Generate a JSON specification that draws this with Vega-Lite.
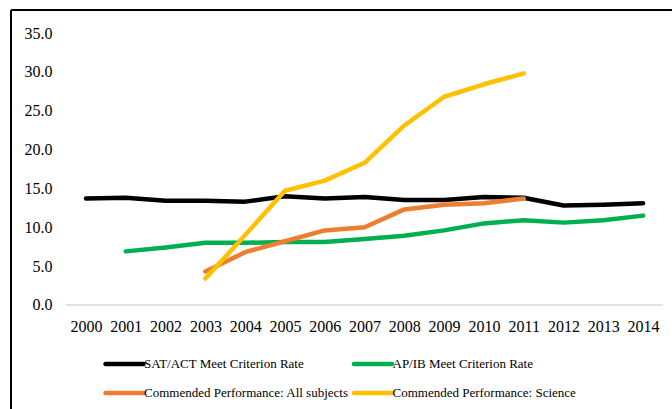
{
  "$schema": "https://vega.github.io/schema/vega-lite/v6.json",
  "width": 708,
  "height": 420,
  "autosize": {"type": "none"},
  "padding": {"left": 11, "top": 10, "right": -47, "bottom": -21},
  "background": "white",
  "config": {
    "font": "Liberation Serif",
    "view": {"stroke": null}
  },
  "datasets": {
    "rates": [
      {"year": 2000, "series": "SAT/ACT Meet Criterion Rate", "value": 13.7},
      {"year": 2001, "series": "SAT/ACT Meet Criterion Rate", "value": 13.8},
      {"year": 2002, "series": "SAT/ACT Meet Criterion Rate", "value": 13.4},
      {"year": 2003, "series": "SAT/ACT Meet Criterion Rate", "value": 13.4},
      {"year": 2004, "series": "SAT/ACT Meet Criterion Rate", "value": 13.3},
      {"year": 2005, "series": "SAT/ACT Meet Criterion Rate", "value": 14.0},
      {"year": 2006, "series": "SAT/ACT Meet Criterion Rate", "value": 13.7},
      {"year": 2007, "series": "SAT/ACT Meet Criterion Rate", "value": 13.9},
      {"year": 2008, "series": "SAT/ACT Meet Criterion Rate", "value": 13.5},
      {"year": 2009, "series": "SAT/ACT Meet Criterion Rate", "value": 13.5},
      {"year": 2010, "series": "SAT/ACT Meet Criterion Rate", "value": 13.9},
      {"year": 2011, "series": "SAT/ACT Meet Criterion Rate", "value": 13.8},
      {"year": 2012, "series": "SAT/ACT Meet Criterion Rate", "value": 12.8},
      {"year": 2013, "series": "SAT/ACT Meet Criterion Rate", "value": 12.9},
      {"year": 2014, "series": "SAT/ACT Meet Criterion Rate", "value": 13.1},
      {"year": 2001, "series": "AP/IB Meet Criterion Rate", "value": 6.9},
      {"year": 2002, "series": "AP/IB Meet Criterion Rate", "value": 7.4},
      {"year": 2003, "series": "AP/IB Meet Criterion Rate", "value": 8.0},
      {"year": 2004, "series": "AP/IB Meet Criterion Rate", "value": 8.0},
      {"year": 2005, "series": "AP/IB Meet Criterion Rate", "value": 8.1},
      {"year": 2006, "series": "AP/IB Meet Criterion Rate", "value": 8.1},
      {"year": 2007, "series": "AP/IB Meet Criterion Rate", "value": 8.5},
      {"year": 2008, "series": "AP/IB Meet Criterion Rate", "value": 8.9},
      {"year": 2009, "series": "AP/IB Meet Criterion Rate", "value": 9.6},
      {"year": 2010, "series": "AP/IB Meet Criterion Rate", "value": 10.5},
      {"year": 2011, "series": "AP/IB Meet Criterion Rate", "value": 10.9},
      {"year": 2012, "series": "AP/IB Meet Criterion Rate", "value": 10.6},
      {"year": 2013, "series": "AP/IB Meet Criterion Rate", "value": 10.9},
      {"year": 2014, "series": "AP/IB Meet Criterion Rate", "value": 11.5},
      {"year": 2003, "series": "Commended Performance: All subjects", "value": 4.3},
      {"year": 2004, "series": "Commended Performance: All subjects", "value": 6.8},
      {"year": 2005, "series": "Commended Performance: All subjects", "value": 8.2},
      {"year": 2006, "series": "Commended Performance: All subjects", "value": 9.6},
      {"year": 2007, "series": "Commended Performance: All subjects", "value": 10.0},
      {"year": 2008, "series": "Commended Performance: All subjects", "value": 12.3},
      {"year": 2009, "series": "Commended Performance: All subjects", "value": 12.9},
      {"year": 2010, "series": "Commended Performance: All subjects", "value": 13.1},
      {"year": 2011, "series": "Commended Performance: All subjects", "value": 13.7},
      {"year": 2003, "series": "Commended Performance: Science", "value": 3.4},
      {"year": 2004, "series": "Commended Performance: Science", "value": 9.0},
      {"year": 2005, "series": "Commended Performance: Science", "value": 14.7},
      {"year": 2006, "series": "Commended Performance: Science", "value": 16.0},
      {"year": 2007, "series": "Commended Performance: Science", "value": 18.3},
      {"year": 2008, "series": "Commended Performance: Science", "value": 23.1},
      {"year": 2009, "series": "Commended Performance: Science", "value": 26.8},
      {"year": 2010, "series": "Commended Performance: Science", "value": 28.4},
      {"year": 2011, "series": "Commended Performance: Science", "value": 29.8}
    ],
    "baseline": [
      {"from": 1999.5, "to": 2014.5, "value": 0}
    ]
  },
  "resolve": {"scale": {"x": "shared", "y": "shared"}},
  "layer": [
    {
      "description": "chart-area frame: left edge at the x domain start",
      "data": {"values": [{}]},
      "mark": {"type": "rule", "color": "black", "strokeWidth": 2},
      "encoding": {"x": {"datum": 1998.115, "type": "quantitative"}}
    },
    {
      "description": "chart-area frame: top edge at the y domain end",
      "data": {"values": [{}]},
      "mark": {"type": "rule", "color": "black", "strokeWidth": 2},
      "encoding": {"y": {"datum": 37.96, "type": "quantitative"}}
    },
    {
      "data": {"name": "baseline"},
      "mark": {"type": "rule", "color": "#d9d9d9", "strokeWidth": 1.5},
      "encoding": {
        "x": {"field": "from", "type": "quantitative"},
        "x2": {"field": "to"},
        "y": {"field": "value", "type": "quantitative"}
      }
    },
    {
      "data": {"name": "rates"},
      "mark": {"type": "line", "strokeWidth": 4.5, "strokeCap": "round", "strokeJoin": "round"},
      "encoding": {
        "x": {
          "field": "year",
          "type": "quantitative",
          "scale": {"domain": [1998.115, 2015.908], "nice": false, "zero": false},
          "axis": {
            "title": null,
            "orient": "bottom",
            "offset": -125,
            "values": [2000, 2001, 2002, 2003, 2004, 2005, 2006, 2007, 2008, 2009, 2010, 2011, 2012, 2013, 2014],
            "format": "d",
            "domain": false,
            "ticks": false,
            "grid": false,
            "labelFont": "Liberation Serif",
            "labelFontSize": 16,
            "labelColor": "#000000",
            "labelPadding": 13,
            "labelFlush": false,
            "labelOverlap": false
          }
        },
        "y": {
          "field": "value",
          "type": "quantitative",
          "scale": {"domain": [-16.085, 37.96], "nice": false, "zero": false},
          "axis": {
            "title": null,
            "orient": "left",
            "offset": -43,
            "values": [0, 5, 10, 15, 20, 25, 30, 35],
            "format": ".1f",
            "domain": false,
            "ticks": false,
            "grid": false,
            "labelFont": "Liberation Serif",
            "labelFontSize": 16,
            "labelColor": "#000000",
            "labelPadding": 2,
            "labelFlush": false,
            "labelOverlap": false
          }
        },
        "color": {
          "field": "series",
          "type": "nominal",
          "scale": {
            "domain": [
              "SAT/ACT Meet Criterion Rate",
              "AP/IB Meet Criterion Rate",
              "Commended Performance: All subjects",
              "Commended Performance: Science"
            ],
            "range": ["#000000", "#00b050", "#ed7d31", "#ffc000"]
          },
          "legend": {
            "title": null,
            "orient": "none",
            "legendX": 101.5,
            "legendY": 342,
            "direction": "horizontal",
            "columns": 2,
            "columnPadding": -4.5,
            "rowPadding": 8,
            "symbolType": "M-2,0H2",
            "symbolSize": 361,
            "symbolStrokeWidth": 4.5,
            "labelFont": "Liberation Serif",
            "labelFontSize": 13,
            "labelColor": "#000000",
            "labelOffset": 7.5,
            "labelLimit": 400,
            "encode": {"symbols": {"update": {"strokeCap": {"value": "round"}}}}
          }
        }
      }
    }
  ]
}
